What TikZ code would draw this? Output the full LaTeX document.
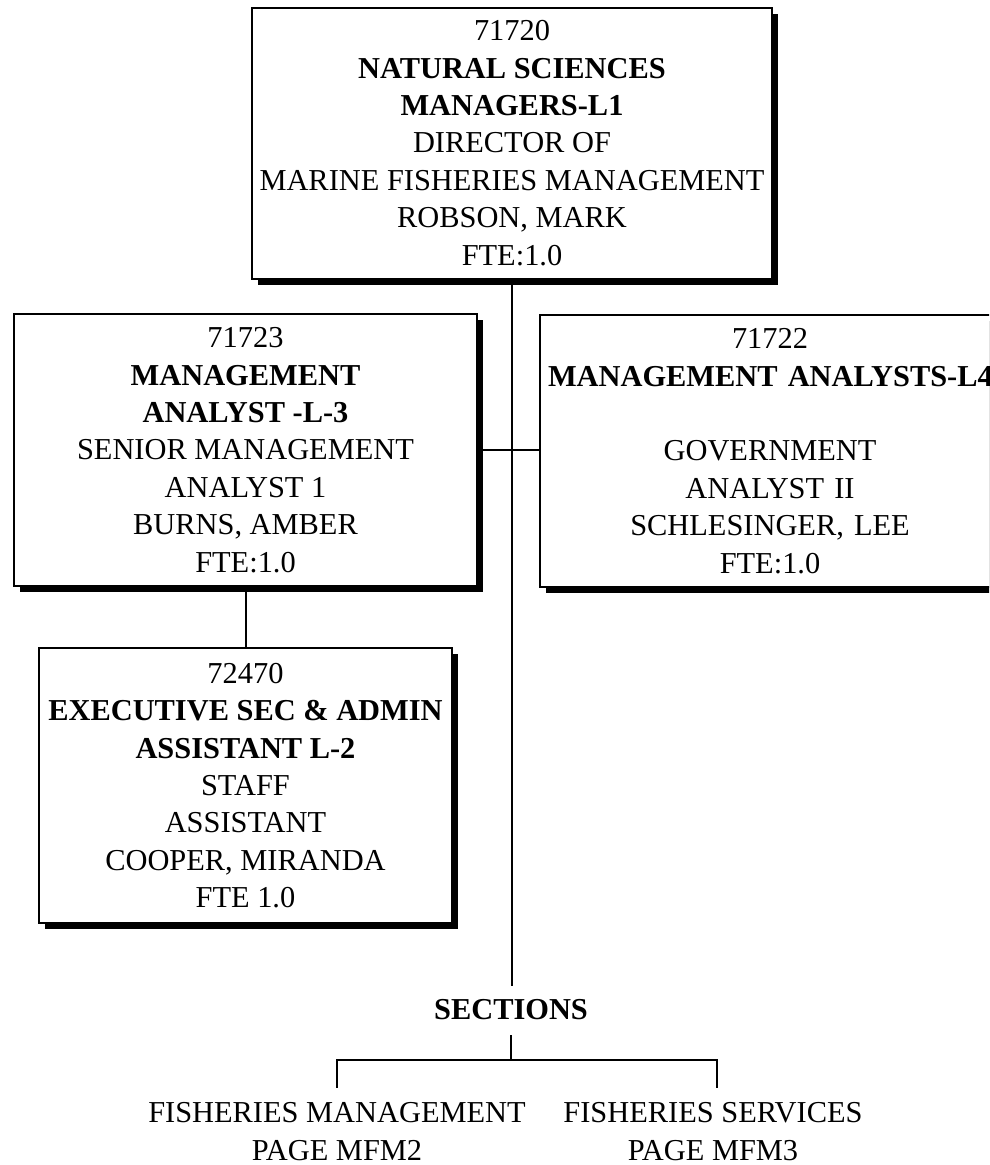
\documentclass[tikz,border=0pt]{standalone}
\usepackage{fontspec}
\setmainfont{Liberation Serif}
\usetikzlibrary{shadows}
\begin{document}
\begin{tikzpicture}[x=1pt,y=-1pt,
  every node/.style={font=\fontsize{30.4}{37.4}\selectfont, align=center, inner sep=0pt},
  posbox/.style={draw, line width=2pt, fill=white, rectangle,
    drop shadow={shadow xshift=6pt, shadow yshift=-6pt, opacity=1, fill=black}},
  link/.style={line width=2pt}]
\useasboundingbox (0,0) rectangle (989,1165);
\clip (0,0) rectangle (989,1165);

% position boxes
\node[posbox, minimum width=520pt, minimum height=271pt] (dir) at (512,143)
  {71720\\ \textbf{NATURAL SCIENCES}\\ \textbf{MANAGERS-L1}\\ DIRECTOR OF\\
   MARINE FISHERIES MANAGEMENT\\ ROBSON, MARK\\ FTE:1.0};
\node[posbox, minimum width=463pt, minimum height=272pt] (anl) at (245.5,450)
  {71723\\ \textbf{MANAGEMENT}\\ \textbf{ANALYST -L-3}\\ SENIOR MANAGEMENT\\
   ANALYST 1\\ BURNS, AMBER\\ FTE:1.0};
\node[posbox, minimum width=460pt, minimum height=272pt, text width=444pt] (gov) at (770,451)
  {71722\\ \mbox{\textbf{MANAGEMENT ANALYSTS-L4}}\\ \mbox{}\\ GOVERNMENT\\
   ANALYST II\\ SCHLESINGER, LEE\\ FTE:1.0};
\node[posbox, minimum width=413pt, minimum height=275pt] (sec2) at (245.5,785.5)
  {72470\\ \textbf{EXECUTIVE SEC \& ADMIN}\\ \textbf{ASSISTANT L-2}\\ STAFF\\
   ASSISTANT\\ COOPER, MIRANDA\\ FTE 1.0};

% sections
\node[font=\fontsize{30.4}{37.4}\selectfont\bfseries] (sect) at (511,1010) {SECTIONS};
\node (fm) at (337,1131.5) {FISHERIES MANAGEMENT\\ PAGE MFM2};
\node (fs) at (713,1131.5) {FISHERIES SERVICES\\ PAGE MFM3};

% connectors
\draw[link, shorten >=14pt] (dir.south) -- (dir.south |- sect.north);
\draw[link] (anl.east) -- (anl.east -| gov.west);
\draw[link] (anl.south) -- (sec2.north);
\coordinate (jn) at (sect.south |- 0,1060);
\draw[link, shorten <=15pt] (sect.south) -- (jn);
\draw[link] ([yshift=14.75pt]fm.north) |- (jn) -| ([xshift=4pt,yshift=14.75pt]fs.north);
\end{tikzpicture}
\end{document}
